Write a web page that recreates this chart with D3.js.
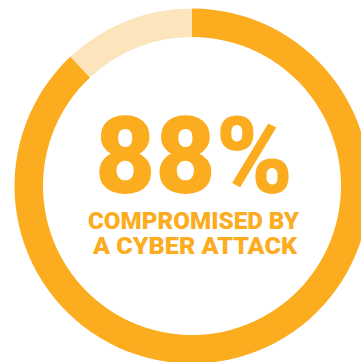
<!DOCTYPE html>
<html>
<head>
<meta charset="utf-8">
<script src="https://cdn.jsdelivr.net/npm/d3@7"></script>
<style>
  html, body { margin: 0; padding: 0; background: #ffffff; }
  svg { display: block; }
</style>
</head>
<body>
<svg id="chart" width="361" height="362"></svg>
<script>
// Share of organisations compromised by a cyber attack
const categories = ["Compromised", "Not compromised"];
const values = [88, 12];
const colors = ["#FBAC1F", "#FCE5BD"];
const headline = "88%";
const captionLines = ["COMPROMISED BY", "A CYBER ATTACK"];

const svg = d3.select("#chart");
const cx = 192, cy = 186;
const outerR = 177.5, innerR = 149;

const pie = d3.pie().sort(null).value(d => d);
const arc = d3.arc().innerRadius(innerR).outerRadius(outerR);

const g = svg.append("g").attr("transform", `translate(${cx},${cy})`);
g.selectAll("path")
  .data(pie(values))
  .join("path")
  .attr("d", arc)
  .attr("fill", (d, i) => colors[i]);

svg.append("text")
  .attr("x", 194).attr("y", 193)
  .attr("text-anchor", "middle")
  .attr("font-family", "Roboto, sans-serif")
  .attr("font-weight", 900)
  .attr("font-size", 107)
  .attr("fill", colors[0])
  .attr("textLength", 198)
  .attr("lengthAdjust", "spacingAndGlyphs")
  .text(headline);

const capY = [228.5, 254];
const capW = [211, 204];
const capX = [193.5, 195];
captionLines.forEach((t, i) => {
  svg.append("text")
    .attr("x", capX[i]).attr("y", capY[i])
    .attr("text-anchor", "middle")
    .attr("font-family", "Roboto, sans-serif")
    .attr("font-weight", 900)
    .attr("font-size", 23.5)
    .attr("fill", colors[0])
    .attr("textLength", capW[i])
    .attr("lengthAdjust", "spacingAndGlyphs")
    .text(t);
});
</script>
</body>
</html>
